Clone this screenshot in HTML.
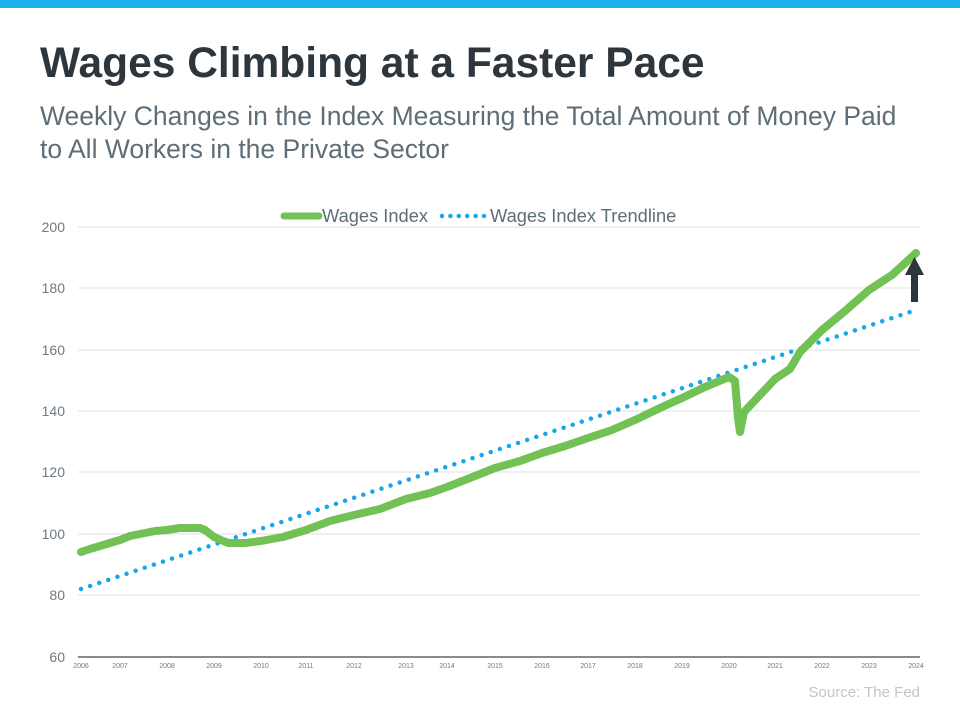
<!DOCTYPE html>
<html><head><meta charset="utf-8"><style>
body{margin:0;width:960px;height:720px;background:#fff;overflow:hidden;font-family:"Liberation Sans",sans-serif;position:relative}
.bar{position:absolute;left:0;top:0;width:960px;height:8px;background:#1ab0ec}
h1{position:absolute;left:40px;top:40px;margin:0;font-size:42.5px;font-weight:bold;color:#2d353d}
.sub{position:absolute;left:40px;top:100px;font-size:26.5px;line-height:33px;color:#5d6e78}
.src{position:absolute;right:40px;top:684px;font-size:15px;color:#c0c6cb}
</style></head><body>
<div class="bar"></div>
<h1>Wages Climbing at a Faster Pace</h1>
<div class="sub">Weekly Changes in the Index Measuring the Total Amount of Money Paid<br>to All Workers in the Private Sector</div>
<svg width="960" height="720" style="position:absolute;left:0;top:0" font-family="Liberation Sans, sans-serif">
<g stroke="#dcdfe3" stroke-width="1">
<line x1="78" x2="920" y1="227" y2="227"/><line x1="78" x2="920" y1="288" y2="288"/>
<line x1="78" x2="920" y1="350" y2="350"/><line x1="78" x2="920" y1="411" y2="411"/>
<line x1="78" x2="920" y1="472" y2="472"/><line x1="78" x2="920" y1="534" y2="534"/>
<line x1="78" x2="920" y1="595" y2="595"/></g>
<line x1="78" x2="920" y1="657" y2="657" stroke="#444" stroke-width="1.3"/>
<g font-size="14" fill="#6e7a84" text-anchor="end">
<text x="65" y="232">200</text><text x="65" y="293">180</text><text x="65" y="355">160</text>
<text x="65" y="416">140</text><text x="65" y="477">120</text><text x="65" y="539">100</text>
<text x="65" y="600">80</text><text x="65" y="662">60</text></g>
<g font-size="7" fill="#6e7a84" text-anchor="middle">
<text x="81" y="668">2006</text><text x="120" y="668">2007</text><text x="167" y="668">2008</text>
<text x="214" y="668">2009</text><text x="261" y="668">2010</text><text x="306" y="668">2011</text>
<text x="354" y="668">2012</text><text x="406" y="668">2013</text><text x="447" y="668">2014</text>
<text x="495" y="668">2015</text><text x="542" y="668">2016</text><text x="588" y="668">2017</text>
<text x="635" y="668">2018</text><text x="682" y="668">2019</text><text x="729" y="668">2020</text>
<text x="775" y="668">2021</text><text x="822" y="668">2022</text><text x="869" y="668">2023</text>
<text x="916" y="668">2024</text></g>
<line x1="81" y1="589" x2="916" y2="310" stroke="#14a7ea" stroke-width="4.5" stroke-dasharray="0 9.6" stroke-linecap="round"/>
<polyline fill="none" stroke="#72c155" stroke-width="8" stroke-linejoin="round" stroke-linecap="round" points="81,552 90,549 100,546 110,543 120,540 130,536 140,534 155,531 167,530 180,528 190,528 200,528 205,530 214,537 228,543 245,543 261,541 283,537 306,530 330,521 354,515 380,509 406,499 430,493 447,487 470,478 495,468 520,461 542,453 565,446 588,438 612,430 635,420 660,408 682,398 705,387 729,377 735,381 738,418 740,432 744,412 760,395 775,379 790,369 800,352 812,340 822,330 845,311 869,290 892,275 916,253"/>
<rect x="911" y="270" width="7" height="32" fill="#2d353d"/>
<polygon points="905,275 924,275 914.5,257" fill="#2d353d"/>
<line x1="284" y1="216" x2="319" y2="216" stroke="#72c155" stroke-width="7" stroke-linecap="round"/>
<text x="322" y="222" font-size="18.3" fill="#5d6e78">Wages Index</text>
<line x1="442" y1="216" x2="484" y2="216" stroke="#14a7ea" stroke-width="4.5" stroke-dasharray="0 8.4" stroke-linecap="round"/>
<text x="490" y="222" font-size="18.3" fill="#5d6e78">Wages Index Trendline</text>
</svg>
<div class="src">Source: The Fed</div>
</body></html>
